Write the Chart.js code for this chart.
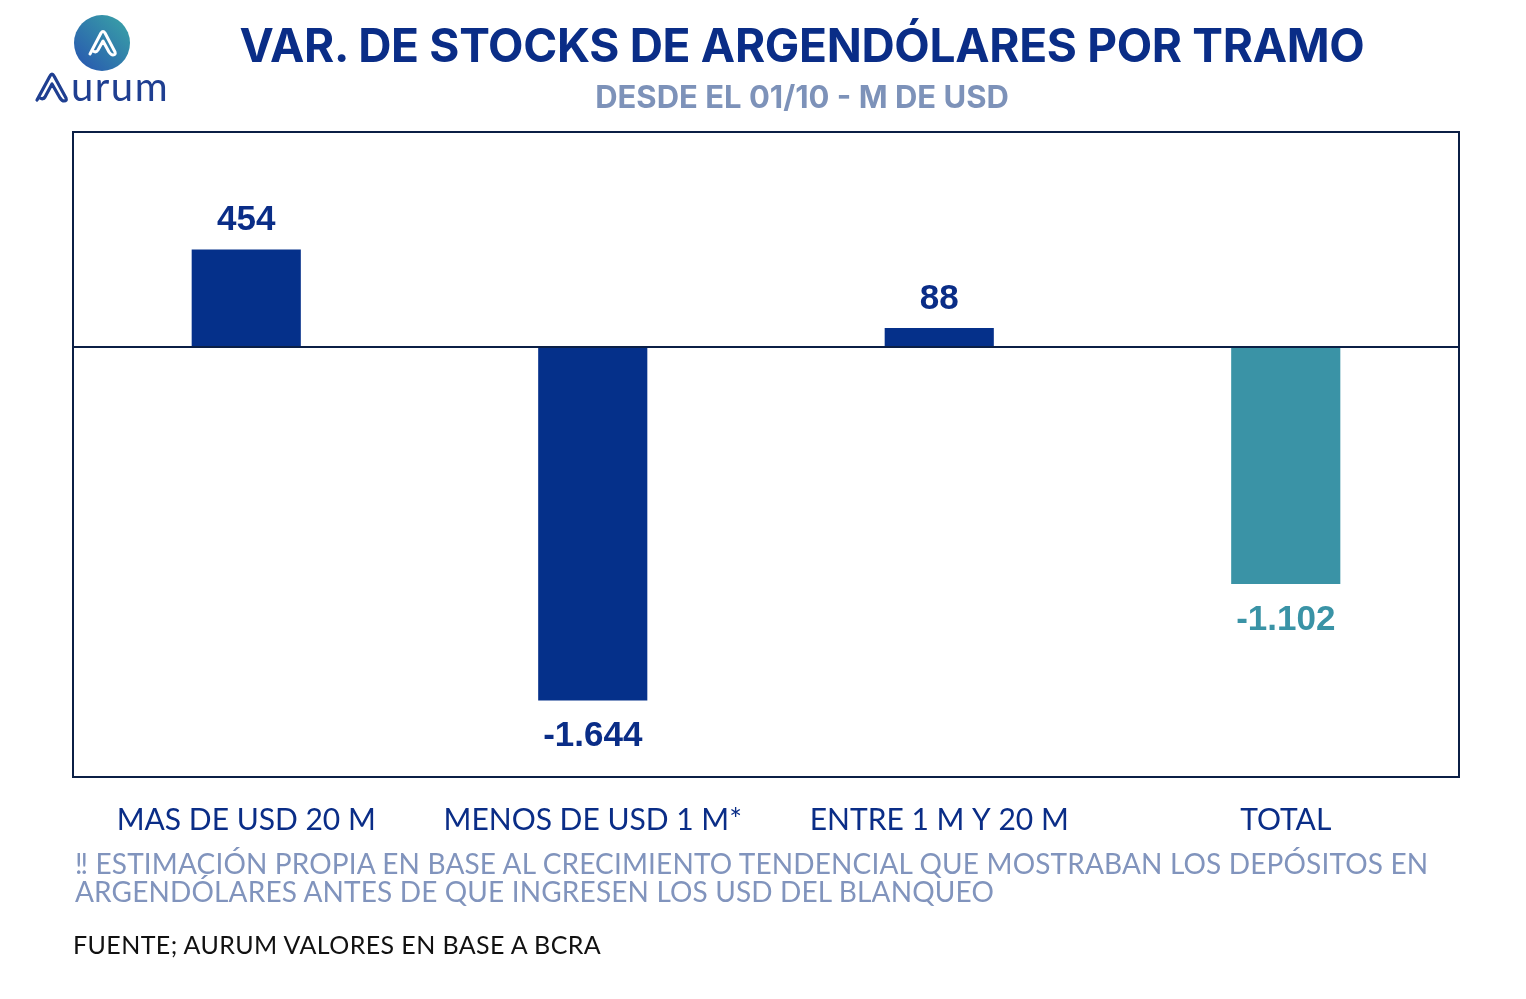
<!DOCTYPE html>
<html>
<head>
<meta charset="utf-8">
<script src="https://cdn.jsdelivr.net/npm/chart.js@4"></script>
<style>
  html, body { margin: 0; padding: 0; background: #fff; }
  body { width: 1526px; height: 999px; position: relative; overflow: hidden; font-family: Lato, "Noto Sans", sans-serif; }
  #wrap { position: absolute; left: 0; top: 0; width: 1526px; height: 999px; }
  .title { position: absolute; left: 0; width: 1604px; top: 17px; text-align: center; font: 700 46px Inter, "Noto Sans", sans-serif; color: #0a2d87; letter-spacing: -0.3px; }
  .sub { position: absolute; left: 0; width: 1604px; top: 78px; text-align: center; font: 700 31px Inter, "Noto Sans", sans-serif; color: #7d92b9; }
  .note { position: absolute; left: 75px; top: 849px; font: 400 28px Lato, sans-serif; color: #8194bd; line-height: 28px; letter-spacing: 0.15px; }
  .src { position: absolute; left: 73px; top: 929px; font: 400 25px Lato, sans-serif; color: #111; letter-spacing: 0.4px; }
  #logo { position: absolute; left: 30px; top: 10px; }
</style>
</head>
<body>
<div id="wrap"><canvas id="chart"></canvas></div>
<svg id="logo" width="160" height="100" viewBox="0 0 160 100">
  <defs>
    <linearGradient id="g" x1="0" y1="1" x2="1" y2="0">
      <stop offset="0" stop-color="#2753b0"/>
      <stop offset="1" stop-color="#3aa6a6"/>
    </linearGradient>
  </defs>
  <circle cx="72" cy="33" r="28" fill="url(#g)"/>
  <path d="M60 44 L71 23 Q73 20 75 23 L85 42 Q86 45 83 45 Q81 45 79 42 L73 31 L68 40 Q66 43 63 41" fill="none" stroke="#fff" stroke-width="3" stroke-linecap="round" stroke-linejoin="round"/>
  <path d="M7 90 L20 66 Q22 62 24 66 L36 88 Q37 91 34 91 Q32 91 30 88 L22 74 L15 87 Q13 90 10 88" fill="none" stroke="#1f3f91" stroke-width="3.2" stroke-linecap="round" stroke-linejoin="round"/>
  <text x="41" y="91" font-family="Lato, sans-serif" font-size="40" font-weight="400" fill="#1f3f91" letter-spacing="1.5">urum</text>
</svg>
<div class="title">VAR. DE STOCKS DE ARGENDÓLARES POR TRAMO</div>
<div class="sub">DESDE EL 01/10 - M DE USD</div>
<div class="note">‼ ESTIMACIÓN PROPIA EN BASE AL CRECIMIENTO TENDENCIAL QUE MOSTRABAN LOS DEPÓSITOS EN<br>ARGENDÓLARES ANTES DE QUE INGRESEN LOS USD DEL BLANQUEO</div>
<div class="src">FUENTE; AURUM VALORES EN BASE A BCRA</div>
<script>
const categories = ["MAS DE USD 20 M", "MENOS DE USD 1 M*", "ENTRE 1 M Y 20 M", "TOTAL"];
const values = [454, -1644, 88, -1102];
const barColors = ["#05308a", "#05308a", "#05308a", "#3a93a6"];
const labelColors = ["#0a2d87", "#0a2d87", "#0a2d87", "#3a93a6"];

function fmt(v) {
  const s = Math.abs(v).toString().replace(/\B(?=(\d{3})+(?!\d))/g, ".");
  return (v < 0 ? "-" : "") + s;
}

const boxPlugin = {
  id: "box",
  afterDraw(chart) {
    const a = chart.chartArea, ctx = chart.ctx;
    ctx.save();
    ctx.strokeStyle = "#0b1f45";
    ctx.lineWidth = 2;
    ctx.strokeRect(a.left, a.top, a.right - a.left, a.bottom - a.top);
    ctx.restore();
  }
};

const labelPlugin = {
  id: "vals",
  afterDatasetsDraw(chart) {
    const ctx = chart.ctx;
    const meta = chart.getDatasetMeta(0);
    ctx.save();
    ctx.font = "700 35px 'Liberation Sans', Arial, sans-serif";
    ctx.textAlign = "center";
    ctx.textBaseline = "middle";
    meta.data.forEach((bar, i) => {
      const v = values[i];
      ctx.fillStyle = labelColors[i];
      const y = v >= 0 ? bar.y - 29 : bar.y + 36;
      ctx.fillText(fmt(v), bar.x, y);
    });
    ctx.restore();
  }
};

new Chart(document.getElementById("chart"), {
  type: "bar",
  data: {
    labels: categories,
    datasets: [{
      data: values,
      backgroundColor: barColors,
      barPercentage: 0.315,
      categoryPercentage: 1
    }]
  },
  options: {
    responsive: true,
    maintainAspectRatio: false,
    animation: false,
    layout: { padding: { left: 73, right: 67, top: 132, bottom: 0 } },
    plugins: { legend: { display: false }, tooltip: { enabled: false } },
    scales: {
      x: {
        grid: { display: false },
        border: { display: false },
        ticks: { color: "#0a2d87", font: { family: "Lato", size: 30 }, padding: 17, maxRotation: 0 },
        afterFit(s) { s.height = 222; }
      },
      y: {
        min: -2000, max: 1000,
        ticks: { display: false, stepSize: 1000 },
        border: { display: false },
        grid: {
          drawTicks: false,
          lineWidth: 2,
          color: c => c.tick && c.tick.value === 0 ? "#0b1f45" : "rgba(0,0,0,0)"
        },
        afterFit(s) { s.width = 0; }
      }
    }
  },
  plugins: [boxPlugin, labelPlugin]
});
</script>
</body>
</html>
